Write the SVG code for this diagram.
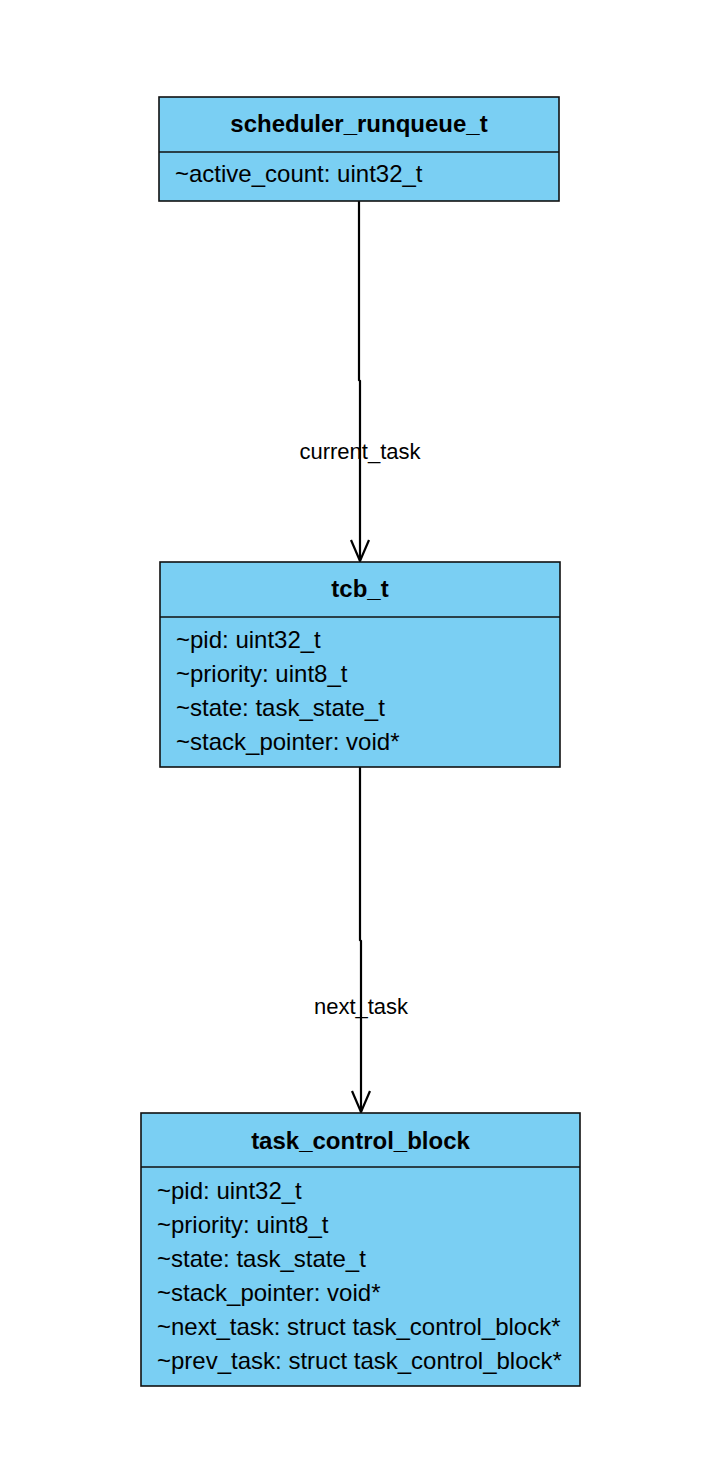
<svg xmlns="http://www.w3.org/2000/svg" width="716" height="1484" viewBox="0 0 716 1484">
<style>
.box{fill:#7ACFF3;stroke:#111;stroke-width:1.6}
.div{stroke:#111;stroke-width:1.6}
.title{font-family:"Liberation Sans",Arial,sans-serif;font-size:24px;font-weight:bold;fill:#000;text-anchor:middle}
.attr{font-family:"Liberation Sans",Arial,sans-serif;font-size:24px;fill:#000}
.edge{fill:none;stroke:#000;stroke-width:2.2}
.head{fill:none;stroke:#000;stroke-width:2.2}
.lbl{font-family:"Liberation Sans",Arial,sans-serif;font-size:22px;fill:#000;text-anchor:middle}
</style>
<rect width="716" height="1484" fill="#fff"/>
<g id="connectors">
<path class="edge" d="M359,201 L359,380 L360,381 L360,561"/>
<path class="head" d="M351,540 L360,561 L369,540"/>
<text class="lbl" x="360" y="459">current_task</text>
<path class="edge" d="M360,767 L360,940 L361,941 L361,1112"/>
<path class="head" d="M352,1091 L361,1112 L370,1091"/>
<text class="lbl" x="361" y="1014">next_task</text>
</g>
<g id="scheduler_runqueue_t">
<rect class="box" x="159" y="97" width="400" height="104"/>
<line class="div" x1="159" y1="152" x2="559" y2="152"/>
<text class="title" x="359" y="132">scheduler_runqueue_t</text>
<text class="attr" x="175" y="182">~active_count: uint32_t</text>
</g>
<g id="tcb_t">
<rect class="box" x="160" y="562" width="400" height="205"/>
<line class="div" x1="160" y1="617" x2="560" y2="617"/>
<text class="title" x="360" y="597">tcb_t</text>
<text class="attr" x="176" y="648">~pid: uint32_t</text>
<text class="attr" x="176" y="682">~priority: uint8_t</text>
<text class="attr" x="176" y="716">~state: task_state_t</text>
<text class="attr" x="176" y="750">~stack_pointer: void*</text>
</g>
<g id="task_control_block">
<rect class="box" x="141" y="1113" width="439" height="273"/>
<line class="div" x1="141" y1="1167" x2="580" y2="1167"/>
<text class="title" x="360.5" y="1149">task_control_block</text>
<text class="attr" x="157" y="1199">~pid: uint32_t</text>
<text class="attr" x="157" y="1233">~priority: uint8_t</text>
<text class="attr" x="157" y="1267">~state: task_state_t</text>
<text class="attr" x="157" y="1301">~stack_pointer: void*</text>
<text class="attr" x="157" y="1335">~next_task: struct task_control_block*</text>
<text class="attr" x="157" y="1369">~prev_task: struct task_control_block*</text>
</g>
</svg>
